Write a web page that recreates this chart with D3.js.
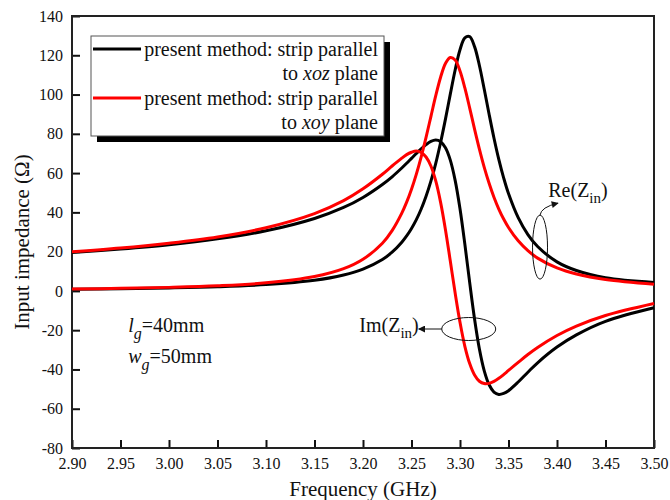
<!DOCTYPE html>
<html>
<head>
<meta charset="utf-8">
<script src="https://cdnjs.cloudflare.com/ajax/libs/d3/7.8.5/d3.min.js"></script>
<style>
body { margin: 0; background: #fff; }
svg text { font-family: "Liberation Serif", "Times New Roman", Times, "DejaVu Serif", serif !important; fill: #111; }
</style>
</head>
<body>
<div id="chart"></div>
<script>
// Data
var freq = [2.90, 2.95, 3.00, 3.05, 3.10, 3.15, 3.18, 3.20, 3.22, 3.23,
  3.24, 3.245, 3.25, 3.255, 3.26, 3.265, 3.27, 3.275, 3.28, 3.285,
  3.29, 3.295, 3.30, 3.305, 3.31, 3.315, 3.32, 3.325, 3.33, 3.335,
  3.34, 3.345, 3.35, 3.36, 3.37, 3.38, 3.40, 3.42, 3.45, 3.50];

// strip parallel to xoz plane (black)
var reXoz = [0.9, 1.1, 1.5, 2.1, 3.2, 5.4, 8.1, 11.1, 16.0, 19.7,
  24.8, 28.0, 31.8, 36.3, 41.7, 48.2, 55.9, 65.0, 75.6, 87.5,
  100.2, 112.5, 122.8, 128.9, 129.5, 124.4, 114.8, 102.7, 90.0, 77.9,
  67.0, 57.6, 49.6, 37.3, 28.7, 22.6, 14.8, 10.4, 6.7, 4.3];
var imXoz = [19.5, 21.3, 23.5, 26.5, 30.6, 36.9, 42.5, 47.6, 54.2, 58.1,
  62.6, 65.0, 67.5, 70.0, 72.4, 74.5, 76.1, 76.8, 76.0, 72.9,
  66.6, 56.3, 41.8, 23.8, 4.2, -14.3, -29.6, -40.7, -47.8, -51.5,
  -52.7, -52.2, -50.8, -46.4, -41.4, -36.6, -28.6, -22.4, -15.5, -8.6];

// strip parallel to xoy plane (red)
var reXoy = [1.0, 1.3, 1.8, 2.6, 4.1, 7.3, 11.3, 16.1, 24.3, 30.7,
  39.6, 45.2, 51.8, 59.5, 68.3, 78.2, 88.8, 99.4, 108.8, 115.8,
  118.9, 117.6, 112.0, 103.4, 93.1, 82.4, 72.2, 62.9, 54.8, 47.7,
  41.7, 36.6, 32.3, 25.5, 20.5, 16.7, 11.7, 8.6, 5.8, 3.4];
var imXoy = [19.9, 21.8, 24.3, 27.5, 32.2, 39.4, 46.0, 52.0, 59.4, 63.6,
  67.6, 69.4, 70.6, 71.2, 70.5, 68.2, 63.6, 56.0, 45.1, 31.2,
  15.2, -1.1, -16.0, -28.2, -37.0, -42.8, -46.0, -47.2, -47.1, -46.1,
  -44.5, -42.6, -40.5, -36.4, -32.4, -28.8, -22.7, -17.9, -12.5, -6.4];

var xTicks = [2.90, 2.95, 3.00, 3.05, 3.10, 3.15, 3.20, 3.25, 3.30, 3.35, 3.40, 3.45, 3.50];
var yTicks = [-80, -60, -40, -20, 0, 20, 40, 60, 80, 100, 120, 140];

var legendLabels = [
  ["present method: strip parallel", "to ", "xoz", " plane"],
  ["present method: strip parallel", "to ", "xoy", " plane"]
];

var serif = '"Liberation Serif", "Times New Roman", Times, "DejaVu Serif", serif';

// Setup chart dimensions
var svgWidth = 670;
var svgHeight = 500;
var margin = { top: 16, right: 16, bottom: 52, left: 72 };
var width = svgWidth - margin.left - margin.right;
var height = svgHeight - margin.top - margin.bottom;

var svg = d3.select("#chart")
  .append("svg")
  .attr("width", svgWidth)
  .attr("height", svgHeight)
  .attr("font-family", serif);

var defs = svg.append("defs");
defs.append("marker")
  .attr("id", "arrow")
  .attr("viewBox", "0 0 10 10")
  .attr("refX", 9)
  .attr("refY", 5)
  .attr("markerWidth", 9)
  .attr("markerHeight", 7)
  .attr("markerUnits", "userSpaceOnUse")
  .attr("orient", "auto")
  .append("path")
  .attr("d", "M0,0 L10,5 L0,10 z")
  .attr("fill", "#111");

var chartGroup = svg.append("g")
  .attr("transform", `translate(${margin.left}, ${margin.top})`);

var xScale = d3.scaleLinear().domain([2.90, 3.50]).range([0, width]);
var yScale = d3.scaleLinear().domain([-80, 140]).range([height, 0]);

// Axes with inward ticks
var bottomAxis = d3.axisBottom(xScale)
  .tickValues(xTicks)
  .tickFormat(d3.format(".2f"))
  .tickSizeInner(-8)
  .tickSizeOuter(0)
  .tickPadding(10);
var leftAxis = d3.axisLeft(yScale)
  .tickValues(yTicks)
  .tickFormat(d => String(d))
  .tickSizeInner(-8)
  .tickSizeOuter(0)
  .tickPadding(9);

var gx = chartGroup.append("g")
  .attr("transform", `translate(0, ${height})`)
  .call(bottomAxis);
var gy = chartGroup.append("g").call(leftAxis);

[gx, gy].forEach(function(g) {
  g.attr("font-family", serif).attr("font-size", 16);
  g.select(".domain").remove();
  g.selectAll(".tick line").attr("stroke", "#111").attr("stroke-width", 2);
  g.selectAll(".tick text").attr("fill", "#111");
});

// Frame
chartGroup.append("rect")
  .attr("x", 0).attr("y", 0)
  .attr("width", width).attr("height", height)
  .attr("fill", "none")
  .attr("stroke", "#222")
  .attr("stroke-width", 2);

// Curves
var series = [
  { values: reXoz, color: "#000" },
  { values: imXoz, color: "#000" },
  { values: reXoy, color: "#ff0000" },
  { values: imXoy, color: "#ff0000" }
];

var line = d3.line()
  .x((d, i) => xScale(freq[i]))
  .y(d => yScale(d))
  .curve(d3.curveCatmullRom.alpha(0.5));

chartGroup.selectAll("path.curve")
  .data(series)
  .enter()
  .append("path")
  .attr("class", "curve")
  .attr("d", d => line(d.values))
  .attr("fill", "none")
  .attr("stroke", d => d.color)
  .attr("stroke-width", 3);

// Annotations: Re(Zin)
chartGroup.append("ellipse")
  .attr("cx", xScale(3.3825)).attr("cy", yScale(22.3))
  .attr("rx", 7.5).attr("ry", 32)
  .attr("fill", "none").attr("stroke", "#111").attr("stroke-width", 1);

var reTop = yScale(22.3) - 32;
chartGroup.append("path")
  .attr("d", `M${xScale(3.3825)},${reTop} Q${xScale(3.3825) + 1},${reTop - 8} ${xScale(3.3825) + 18},${reTop - 12}`)
  .attr("fill", "none").attr("stroke", "#111").attr("stroke-width", 1)
  .attr("marker-end", "url(#arrow)");

var reText = chartGroup.append("text")
  .attr("x", xScale(3.391)).attr("y", yScale(47.8))
  .style("font-size", "20px");
reText.append("tspan").text("Re(Z");
reText.append("tspan").attr("dy", 6).style("font-size", "15px").text("in");
reText.append("tspan").attr("dy", -6).text(")");

// Annotations: Im(Zin)
chartGroup.append("ellipse")
  .attr("cx", xScale(3.309)).attr("cy", yScale(-19.4))
  .attr("rx", 27).attr("ry", 11.5)
  .attr("fill", "none").attr("stroke", "#111").attr("stroke-width", 1);

chartGroup.append("line")
  .attr("x1", xScale(3.309) - 27).attr("y1", yScale(-19.4))
  .attr("x2", xScale(3.309) - 50).attr("y2", yScale(-19.4))
  .attr("stroke", "#111").attr("stroke-width", 1)
  .attr("marker-end", "url(#arrow)");

var imText = chartGroup.append("text")
  .attr("x", xScale(3.309) - 50).attr("y", yScale(-21))
  .attr("text-anchor", "end")
  .style("font-size", "20px");
imText.append("tspan").text("Im(Z");
imText.append("tspan").attr("dy", 6).style("font-size", "15px").text("in");
imText.append("tspan").attr("dy", -6).text(")");

// Parameters text
var paramRows = [["l", "=40mm", -21], ["w", "=50mm", -36.7]];
paramRows.forEach(function(p) {
  var t = chartGroup.append("text")
    .attr("x", xScale(2.958)).attr("y", yScale(p[2]))
    .style("font-size", "20px");
  t.append("tspan").style("font-style", "italic").text(p[0]);
  t.append("tspan").attr("dy", 7).style("font-style", "italic").style("font-size", "16px").text("g");
  t.append("tspan").attr("dy", -7).text(p[1]);
});

// Legend
var legendX = 19, legendY = 20, legendW = 293, legendH = 100;
chartGroup.append("rect")
  .attr("x", legendX + 6).attr("y", legendY + 6)
  .attr("width", legendW).attr("height", legendH)
  .attr("fill", "#000");
var legend = chartGroup.append("g")
  .attr("transform", `translate(${legendX}, ${legendY})`);
legend.append("rect")
  .attr("width", legendW).attr("height", legendH)
  .attr("fill", "#fff").attr("stroke", "#555").attr("stroke-width", 1);

var legendColors = ["#000", "#ff0000"];
legendLabels.forEach(function(lab, i) {
  var yOff = i * 49;
  legend.append("line")
    .attr("x1", 2).attr("x2", 50)
    .attr("y1", 13 + yOff).attr("y2", 13 + yOff)
    .attr("stroke", legendColors[i]).attr("stroke-width", 3);
  legend.append("text")
    .attr("x", 287).attr("y", 20 + yOff)
    .attr("text-anchor", "end")
    .style("font-size", "20px")
    .text(lab[0]);
  var t2 = legend.append("text")
    .attr("x", 287).attr("y", 44 + yOff)
    .attr("text-anchor", "end")
    .style("font-size", "20px");
  t2.append("tspan").text(lab[1]);
  t2.append("tspan").style("font-style", "italic").text(lab[2]);
  t2.append("tspan").text(lab[3]);
});

// Axis labels
svg.append("text")
  .attr("transform", "rotate(-90)")
  .attr("x", -242)
  .attr("y", 29)
  .attr("text-anchor", "middle")
  .style("font-size", "21px")
  .text("Input impedance (\u03A9)");

svg.append("text")
  .attr("x", margin.left + width / 2)
  .attr("y", 496)
  .attr("text-anchor", "middle")
  .style("font-size", "21px")
  .text("Frequency (GHz)");
</script>
</body>
</html>
